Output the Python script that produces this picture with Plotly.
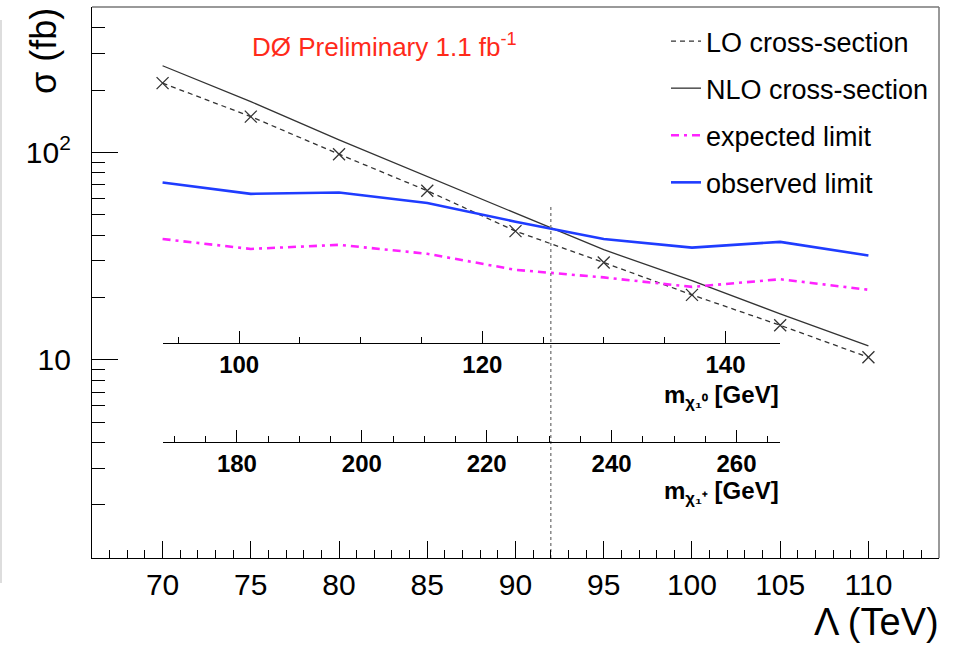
import math
import plotly.graph_objects as go

# ---------------- data ----------------
lam = [70, 75, 80, 85, 90, 95, 100, 105, 110]          # Lambda (TeV)
lo_xsec = [216, 149, 98.2, 65.4, 41.8, 29.5, 20.6, 14.7, 10.3]   # fb
nlo_xsec = [262, 176, 115, 76.6, 51.3, 34.0, 24.1, 16.7, 11.7]   # fb
exp_limit = [38.3, 34.3, 35.9, 32.5, 27.2, 25.0, 22.5, 24.5, 21.8]
obs_limit = [71.7, 63.2, 64.2, 57.1, 46.4, 38.3, 34.8, 37.1, 31.9]

lam_range = [66, 114]
sigma_range = [1.11, 503]
lam_ticks = [70, 75, 80, 85, 90, 95, 100, 105, 110]
sigma_ticks = [10, 100]
sigma_ticktext = ["10", "10<sup>2</sup>"]
sigma_minor = [2, 3, 4, 5, 6, 7, 8, 9, 20, 30, 40, 50, 60, 70, 80, 90, 200, 300, 400, 500]

lam_limit = 92          # excluded Lambda
limit_line_top = 55     # fb, top of dotted marker line

inner_lam_span = [70, 105]            # Lambda span covered by the mass axes
neutralino_range = [93.7, 144.5]      # GeV at Lambda = 70 and 105
chargino_range = [168.1, 267.0]
neutralino_ticks = [100, 120, 140]
chargino_ticks = [180, 200, 220, 240, 260]

# ---------------- geometry ----------------
W, H = 956, 645
ML, MR, MT, MB = 92, 17, 7, 87
PW, PH = W - ML - MR, H - MT - MB
FONT = "Liberation Sans, Arial, Helvetica, sans-serif"


def px_x(p):
    return (p - ML) / PW


def px_y(p):
    return (H - MB - p) / PH


span = lam_range[1] - lam_range[0]
inner_domain = [(inner_lam_span[0] - lam_range[0]) / span,
                (inner_lam_span[1] - lam_range[0]) / span]

fig = go.Figure()

# LO cross-section (dashed line + markers)
fig.add_trace(go.Scatter(x=lam, y=lo_xsec, mode="lines", name="LO cross-section",
                         line=dict(color="#333333", width=1.3, dash="5px,4px"),
                         legendgroup="a"))
fig.add_trace(go.Scatter(x=lam, y=lo_xsec, mode="markers", showlegend=False,
                         marker=dict(symbol="x-thin-open", size=12, color="#333333",
                                     line=dict(color="#333333", width=1.3))))
fig.add_trace(go.Scatter(x=lam, y=nlo_xsec, mode="lines", name="NLO cross-section",
                         line=dict(color="#333333", width=1.3), legendgroup="b"))
fig.add_trace(go.Scatter(x=lam, y=exp_limit, mode="lines", name="expected limit",
                         line=dict(color="#ff22ff", width=2.6, dash="8px,5px,3px,5px"),
                         legendgroup="c"))
fig.add_trace(go.Scatter(x=lam, y=obs_limit, mode="lines", name="observed limit",
                         line=dict(color="#1f3cff", width=2.6), legendgroup="d"))
# dotted vertical line at the limit
fig.add_trace(go.Scatter(x=[lam_limit, lam_limit], y=[sigma_range[0], limit_line_top],
                         mode="lines", showlegend=False,
                         line=dict(color="#888888", width=1.5, dash="dot")))

# invisible traces to materialise the mass axes
fig.add_trace(go.Scatter(x=neutralino_range, y=[None, None], xaxis="x2", yaxis="y",
                         showlegend=False, hoverinfo="skip"))
fig.add_trace(go.Scatter(x=chargino_range, y=[None, None], xaxis="x3", yaxis="y",
                         showlegend=False, hoverinfo="skip"))

inner_common = dict(domain=inner_domain, anchor="free", showline=True,
                    linecolor="black", linewidth=1.2, ticks="inside",
                    tickcolor="black", ticklen=12, tickwidth=1.2,
                    showgrid=False, zeroline=False,
                    tickfont=dict(family=FONT, size=24, color="black", weight="bold"))

fig.update_layout(
    width=W, height=H,
    margin=dict(l=ML, r=MR, t=MT, b=MB, autoexpand=False),
    paper_bgcolor="white", plot_bgcolor="rgba(0,0,0,0)",
    showlegend=True,
    legend=dict(x=px_x(666), y=px_y(17), xanchor="left", yanchor="top",
                bgcolor="rgba(0,0,0,0)", borderwidth=0,
                font=dict(family=FONT, size=27, color="black"),
                traceorder="grouped", tracegroupgap=9, itemwidth=30),
    xaxis=dict(range=lam_range, tickvals=lam_ticks, showline=True,
               linecolor="black", linewidth=1.2, ticks="inside", ticklen=17,
               tickwidth=1.2, tickcolor="black", showgrid=False, zeroline=False,
               minor=dict(dtick=1, ticks="inside", ticklen=8, tickwidth=1.2,
                          tickcolor="black", showgrid=False),
               tickfont=dict(family=FONT, size=30, color="black")),
    yaxis=dict(type="log", range=[math.log10(sigma_range[0]), math.log10(sigma_range[1])],
               tickvals=sigma_ticks, ticktext=sigma_ticktext, showline=True,
               linecolor="black", linewidth=1.2, ticks="inside", ticklen=26,
               tickwidth=1.2, tickcolor="black", showgrid=False, zeroline=False,
               ticklabelstandoff=14,
               minor=dict(tickmode="array", tickvals=sigma_minor, ticks="inside",
                          ticklen=13, tickwidth=1.2, tickcolor="black", showgrid=False),
               tickfont=dict(family=FONT, size=30, color="black")),
    xaxis2=dict(range=neutralino_range, tickvals=neutralino_ticks, position=px_y(343.3),
                minor=dict(dtick=5, tick0=0, ticks="inside", ticklen=6, tickwidth=1.2,
                           tickcolor="black", showgrid=False),
                **inner_common),
    xaxis3=dict(range=chargino_range, tickvals=chargino_ticks, position=px_y(442.3),
                minor=dict(dtick=5, tick0=0, ticks="inside", ticklen=6, tickwidth=1.2,
                           tickcolor="black", showgrid=False),
                **inner_common),
)

# frame top/right borders
fig.add_shape(type="line", xref="paper", yref="paper", x0=0, x1=1, y0=1, y1=1,
              line=dict(color="#777777", width=1.5))
fig.add_shape(type="line", xref="paper", yref="paper", x0=1, x1=1, y0=0, y1=1,
              line=dict(color="#777777", width=1.5))
# faint line on the far left edge of the picture
fig.add_shape(type="line", xref="paper", yref="paper", x0=px_x(1), x1=px_x(1),
              y0=px_y(20), y1=px_y(583), line=dict(color="#dddddd", width=2))

# texts
fig.add_annotation(text="DØ Preliminary 1.1 fb<sup>-1</sup>", xref="paper", yref="paper",
                   x=px_x(250), y=px_y(45), xanchor="left", yanchor="middle",
                   showarrow=False, font=dict(family=FONT, size=26, color="#ff2a1a"))
fig.add_annotation(text="Λ (TeV)", xref="paper", yref="paper",
                   x=px_x(941), y=px_y(622), xanchor="right", yanchor="middle",
                   showarrow=False, font=dict(family=FONT, size=38, color="black"))
fig.add_annotation(text="σ (fb)", xref="paper", yref="paper", textangle=-90,
                   x=px_x(43), y=px_y(6), xanchor="center", yanchor="top",
                   showarrow=False, font=dict(family=FONT, size=36, color="black"))
fig.add_annotation(text="<b>m<sub>χ₁⁰</sub> [GeV]</b>", xref="paper", yref="paper",
                   x=px_x(781), y=px_y(396), xanchor="right", yanchor="middle",
                   showarrow=False, font=dict(family=FONT, size=24, color="black"))
fig.add_annotation(text="<b>m<sub>χ₁⁺</sub> [GeV]</b>", xref="paper", yref="paper",
                   x=px_x(781), y=px_y(492), xanchor="right", yanchor="middle",
                   showarrow=False, font=dict(family=FONT, size=24, color="black"))

fig.write_html("out.html")
